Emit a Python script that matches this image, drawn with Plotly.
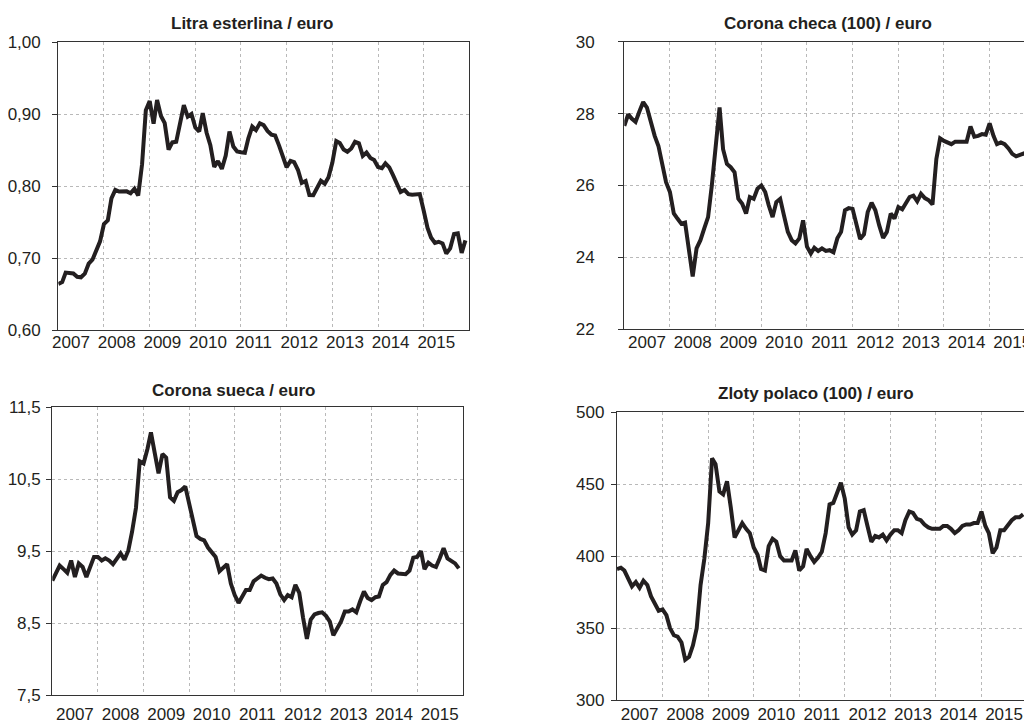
import pandas as pd
import plotly.graph_objects as go

months = pd.date_range("2007-01-01", "2015-12-01", freq="MS")
years = [str(y) for y in range(2007, 2016)]

gbp = [
    0.6640, 0.6666, 0.6798, 0.6788, 0.6787, 0.6740, 0.6733, 0.6784, 0.6922, 0.6977, 0.7095, 0.7232,
    0.7472, 0.7525, 0.7830, 0.7947, 0.7925, 0.7923, 0.7928, 0.7902, 0.7965, 0.7869, 0.8306, 0.9054,
    0.9182, 0.8869, 0.9197, 0.8976, 0.8876, 0.8508, 0.8608, 0.8616, 0.8894, 0.9125, 0.8966, 0.9003,
    0.8815, 0.8760, 0.9016, 0.8743, 0.8569, 0.8267, 0.8347, 0.8239, 0.8424, 0.8760, 0.8551, 0.8481,
    0.8471, 0.8464, 0.8665, 0.8829, 0.8779, 0.8874, 0.8848, 0.8767, 0.8717, 0.8704, 0.8567, 0.8414,
    0.8263, 0.8350, 0.8333, 0.8224, 0.8045, 0.8071, 0.7876, 0.7874, 0.7971, 0.8074, 0.8034, 0.8125,
    0.8328, 0.8627, 0.8599, 0.8510, 0.8478, 0.8524, 0.8616, 0.8596, 0.8420, 0.8467, 0.8392, 0.8364,
    0.8267, 0.8251, 0.8317, 0.8260, 0.8154, 0.8041, 0.7919, 0.7946, 0.7889, 0.7882, 0.7888, 0.7890,
    0.7661, 0.7420, 0.7286, 0.7212, 0.7227, 0.7204, 0.7064, 0.7135, 0.7334, 0.7343, 0.7072, 0.7245,
]

czk = [
    27.66, 27.98, 27.86, 27.77, 28.05, 28.32, 28.17, 27.75, 27.38, 27.10, 26.55, 26.09,
    25.82, 25.22, 25.08, 24.94, 24.97, 24.25, 23.47, 24.25, 24.48, 24.80, 25.12, 26.00,
    27.20, 28.17, 27.01, 26.60, 26.51, 26.37, 25.63, 25.49, 25.22, 25.68, 25.63, 25.91,
    26.00, 25.82, 25.45, 25.12, 25.54, 25.63, 25.17, 24.71, 24.48, 24.39, 24.53, 25.03,
    24.30, 24.11, 24.27, 24.18, 24.25, 24.18, 24.20, 24.14, 24.53, 24.71, 25.31, 25.37,
    25.35, 24.89, 24.51, 24.64, 25.26, 25.52, 25.31, 24.89, 24.54, 24.71, 25.22, 25.08,
    25.40, 25.34, 25.52, 25.68, 25.72, 25.56, 25.77, 25.65, 25.59, 25.47, 26.74, 27.31,
    27.24, 27.20, 27.15, 27.22, 27.22, 27.22, 27.22, 27.64, 27.36, 27.38, 27.43, 27.41,
    27.73, 27.38, 27.15, 27.20, 27.15, 27.03, 26.88, 26.81, 26.85, 26.89, 26.83, 26.81,
]

sek = [
    9.09, 9.20, 9.30, 9.25, 9.20, 9.37, 9.14, 9.33, 9.28, 9.14, 9.28, 9.42,
    9.42, 9.37, 9.40, 9.37, 9.32, 9.40, 9.47, 9.38, 9.51, 9.77, 10.10, 10.75,
    10.72, 10.92, 11.15, 10.86, 10.58, 10.85, 10.80, 10.25, 10.20, 10.32, 10.35, 10.40,
    10.17, 9.93, 9.71, 9.67, 9.65, 9.55, 9.48, 9.42, 9.22, 9.27, 9.32, 9.05,
    8.89, 8.78, 8.87, 8.96, 8.96, 9.08, 9.12, 9.16, 9.13, 9.11, 9.12, 9.05,
    8.90, 8.82, 8.89, 8.86, 9.03, 8.92, 8.58, 8.28, 8.55, 8.62, 8.64, 8.65,
    8.60, 8.52, 8.33, 8.42, 8.52, 8.66, 8.66, 8.69, 8.65, 8.80, 8.94, 8.85,
    8.82, 8.86, 8.87, 9.03, 9.07, 9.17, 9.23, 9.19, 9.18, 9.18, 9.23, 9.41,
    9.42, 9.50, 9.25, 9.34, 9.30, 9.28, 9.40, 9.54, 9.40, 9.36, 9.33, 9.26,
]

pln = [
    391, 392, 390, 384, 379, 382, 378, 383, 380, 372, 367, 362,
    363, 359, 350, 345, 344, 340, 328, 330, 338, 350, 380, 398,
    423, 468, 464, 445, 443, 452, 434, 413, 418, 423, 419, 416,
    406, 401, 391, 390, 407, 412, 410, 400, 397, 397, 397, 404,
    390, 393, 405, 400, 396, 399, 403, 416, 436, 437, 445, 451,
    440, 420, 415, 418, 431, 432, 421, 410, 414, 413, 415, 411,
    415, 418, 418, 416, 425, 431, 430, 426, 425, 422, 420, 419,
    419, 419, 421, 421, 419, 416, 418, 421, 422, 422, 423, 423,
    431, 421, 416, 402, 406, 418, 418, 422, 425, 427, 427, 429,
]

FONT = "Liberation Sans, Arial, Helvetica, sans-serif"
INK = "#231f20"
GRID = "#b9b9b9"
FRAME = "#333333"

# page body has an 8px margin, so the figure is drawn 8px smaller and shifted
PAGE_W, PAGE_H, OFF = 1032, 720, 8
W, H = PAGE_W - OFF, PAGE_H - OFF


def px_x(v):
    return (v - OFF) / W


def px_y(v):
    return 1 - (v - OFF) / H


panels = [
    # values, title, x px, y px, y range, dtick, tick0, format, x end, label shift, x standoff, y standoff, title px, right frame
    (gbp, "Litra esterlina / euro", (58.3, 469.3), (42.3, 330.0), (0.60, 1.00), 0.1, 0.6, ".2f",
     "2016-01-01", -10, -4, 8, (252, 23), True),
    (czk, "Corona checa (100) / euro", (624.3, 1032.0), (41.7, 329.3), (22, 30), 2, 22, "d",
     "2015-12-06", 0, -3, 20, (828, 23), False),
    (sek, "Corona sueca / euro", (52.3, 462.7), (407.3, 695.0), (7.5, 11.5), 1, 7.5, ".1f",
     "2016-01-01", 0, 3, 2, (233, 391), True),
    (pln, "Zloty polaco (100) / euro", (617.0, 1027.0), (412.3, 700.0), (300, 500), 50, 300, "d",
     "2016-01-01", 0, -2, 3, (816, 393), True),
]

label_pos = [f"{y}-07-01" for y in years]

fig = go.Figure()

for n, (vals, title, xd, yd, yr, dt, t0, fmt, xend, shift, xstand, ystand, txy, fr) in enumerate(panels, 1):
    sfx = "" if n == 1 else str(n)
    fig.add_trace(go.Scatter(
        x=months, y=vals, mode="lines",
        line=dict(color=INK, width=4),
        xaxis="x" + sfx, yaxis="y" + sfx, showlegend=False,
    ))
    fig.layout["xaxis" + sfx] = dict(
        domain=[px_x(xd[0]), min(px_x(xd[1]), 1.0)],
        anchor="y" + sfx, automargin=False,
        type="date",
        range=["2007-01-01", xend],
        tickmode="array", tickvals=label_pos, ticktext=years,
        showgrid=False, ticks="", ticklabelshift=shift, ticklabelstandoff=xstand,
        minor=dict(dtick="M12", tick0="2007-01-01", showgrid=True,
                   gridcolor=GRID, griddash="3px,3px", gridwidth=1, ticks=""),
        showline=True, linecolor=FRAME, linewidth=1.3, mirror=True,
        tickfont=dict(size=17, color=INK, family=FONT),
        zeroline=False, fixedrange=True,
    )
    fig.layout["yaxis" + sfx] = dict(
        domain=[px_y(yd[1]), px_y(yd[0])],
        anchor="x" + sfx, automargin=False,
        range=list(yr), tickmode="linear", dtick=dt, tick0=t0, tickformat=fmt,
        showgrid=True, gridcolor=GRID, griddash="3px,3px", gridwidth=1,
        ticks="outside", ticklen=5, tickcolor=FRAME, ticklabelstandoff=ystand,
        showline=True, linecolor=FRAME, linewidth=1.3, mirror=fr,
        tickfont=dict(size=17, color=INK, family=FONT),
        zeroline=False, fixedrange=True,
    )
    fig.add_annotation(
        text="<b>" + title + "</b>", x=px_x(txy[0]), y=px_y(txy[1]),
        xref="paper", yref="paper", xanchor="center", yanchor="middle",
        showarrow=False, font=dict(size=17, color=INK, family=FONT),
    )

fig.update_layout(
    width=W, height=H,
    margin=dict(l=0, r=0, t=0, b=0, autoexpand=False),
    paper_bgcolor="white", plot_bgcolor="white",
    separators=",.",
    font=dict(family=FONT, color=INK),
)

fig.write_html("out.html", config={"displayModeBar": False})
